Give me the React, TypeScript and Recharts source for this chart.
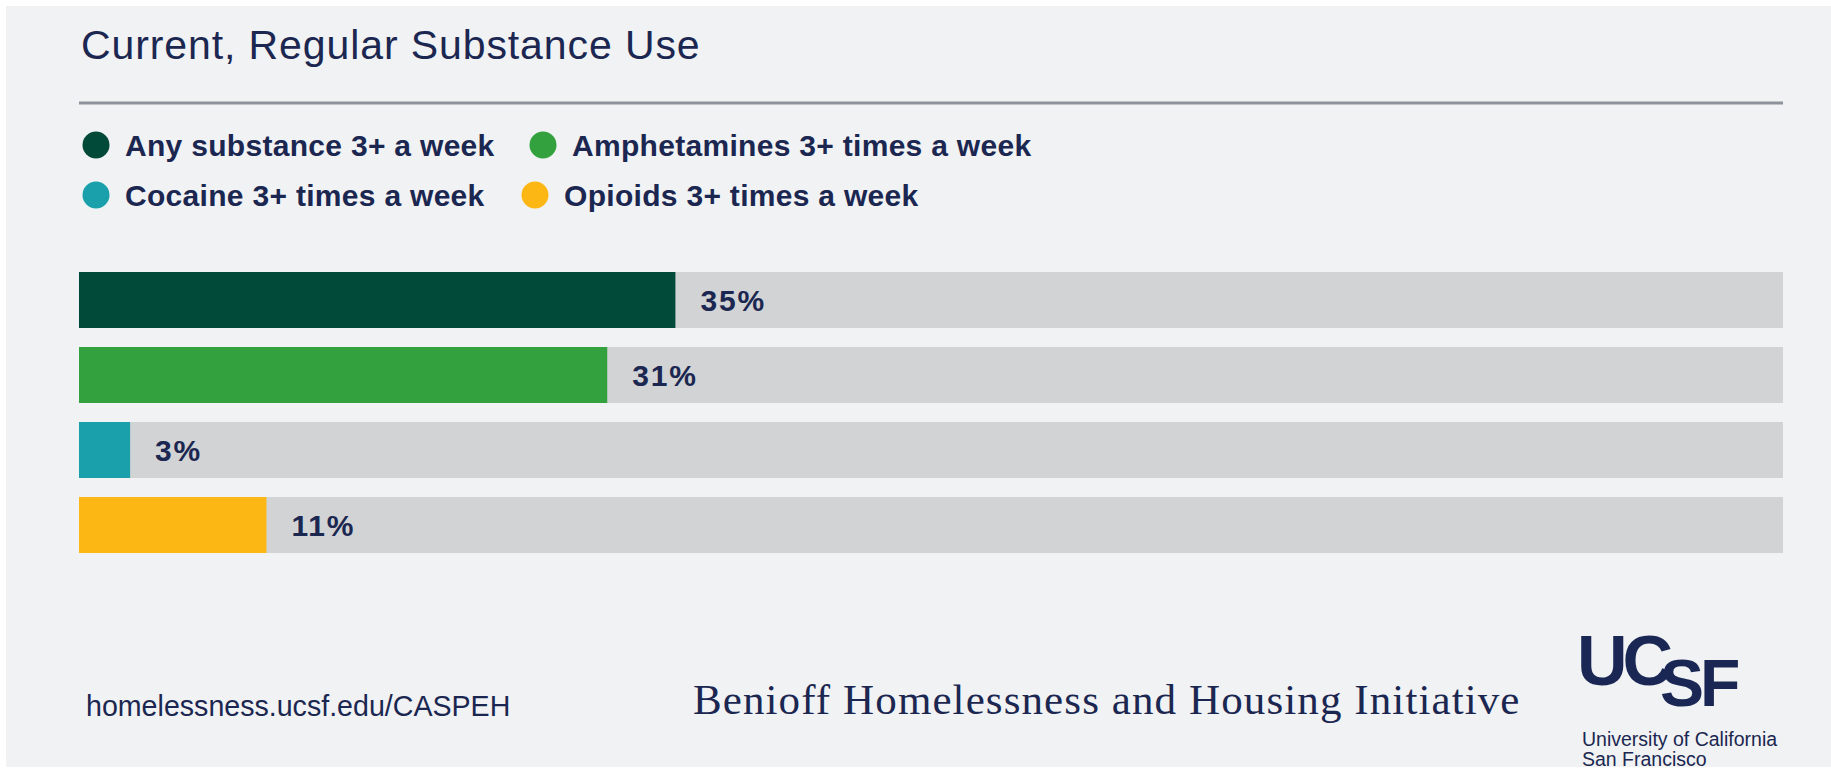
import React from 'react';
import { BarChart, Bar, XAxis, YAxis, Cell, LabelList } from 'recharts';

// data
const categories = [
  'Any substance 3+ a week',
  'Amphetamines 3+ times a week',
  'Cocaine 3+ times a week',
  'Opioids 3+ times a week',
];
const percents = [35, 31, 3, 11];
const colors = ['#014a3a', '#34a13f', '#19a0ab', '#fdb714'];

const TEXT = '#1b2750';
const SANS = '"Liberation Sans", Arial, Helvetica, sans-serif';
const SERIF = '"Liberation Serif", "Times New Roman", serif';

const W = 1831;
const H = 769;

const data = categories.map((name, i) => ({ name, value: percents[i], color: colors[i] }));

// legend layout: two items per row
const legendRows = [
  [0, 1],
  [2, 3],
];
const legendX = [[96, 543], [96, 535]];
const legendY = [145, 195];

function BarValue(props: any) {
  const { x, y, width, height, value } = props;
  return (
    <text
      x={Number(x) + Number(width) + 25}
      y={Number(y) + Number(height) / 2 + 11}
      fill={TEXT}
      fontFamily={SANS}
      fontWeight={700}
      fontSize={30}
      letterSpacing={1.8}
    >
      {value}%
    </text>
  );
}

export default function App() {
  return (
    <div style={{ position: 'absolute', left: 0, top: 0, width: W, height: H, background: '#ffffff' }}>
      <svg width={W} height={H} style={{ position: 'absolute', left: 0, top: 0 }}>
        <rect x={6} y={6} width={W - 6} height={H - 8} fill="#f0f2f4" />
        <text x={81} y={59} fill={TEXT} fontFamily={SANS} fontSize={41} letterSpacing={0.9}>
          Current, Regular Substance Use
        </text>
        <line x1={79} x2={1783} y1={103} y2={103} stroke="#8e929a" strokeWidth={3} />

        {/* legend */}
        {legendRows.map((row, r) =>
          row.map((idx, c) => (
            <g key={idx}>
              <circle cx={legendX[r][c]} cy={legendY[r]} r={13.5} fill={colors[idx]} />
              <text
                x={legendX[r][c] + 29}
                y={legendY[r] + 11}
                fill={TEXT}
                fontFamily={SANS}
                fontWeight={700}
                fontSize={30}
                letterSpacing={0.3}
              >
                {categories[idx]}
              </text>
            </g>
          ))
        )}

        {/* footer */}
        <text x={86} y={716} fill={TEXT} fontFamily={SANS} fontSize={28.6}>
          homelessness.ucsf.edu/CASPEH
        </text>
        <text x={693} y={714} fill={TEXT} fontFamily={SERIF} fontSize={43} letterSpacing={1.1}>
          Benioff Homelessness and Housing Initiative
        </text>
        <text x={1577} y={685} fill="#1a2754" fontFamily={SANS} fontWeight={700} fontSize={70} letterSpacing={-5}>
          UC
        </text>
        <text x={1660} y={706} fill="#1a2754" fontFamily={SANS} fontWeight={700} fontSize={66} letterSpacing={-4}>
          SF
        </text>
        <text x={1582} y={746} fill={TEXT} fontFamily={SANS} fontSize={19.5}>
          University of California
        </text>
        <text x={1582} y={766} fill={TEXT} fontFamily={SANS} fontSize={19.5}>
          San Francisco
        </text>
      </svg>

      <div style={{ position: 'absolute', left: 0, top: 0 }}>
        <BarChart
          width={W}
          height={H}
          data={data}
          layout="vertical"
          margin={{ top: 262, right: 48, bottom: 207, left: 79 }}
        >
          <XAxis type="number" domain={[0, 100]} hide />
          <YAxis type="category" dataKey="name" hide />
          <Bar dataKey="value" barSize={56} background={{ fill: '#d1d3d4' }} isAnimationActive={false}>
            {data.map((d, i) => (
              <Cell key={i} fill={d.color} />
            ))}
            <LabelList dataKey="value" content={BarValue} />
          </Bar>
        </BarChart>
      </div>
    </div>
  );
}
